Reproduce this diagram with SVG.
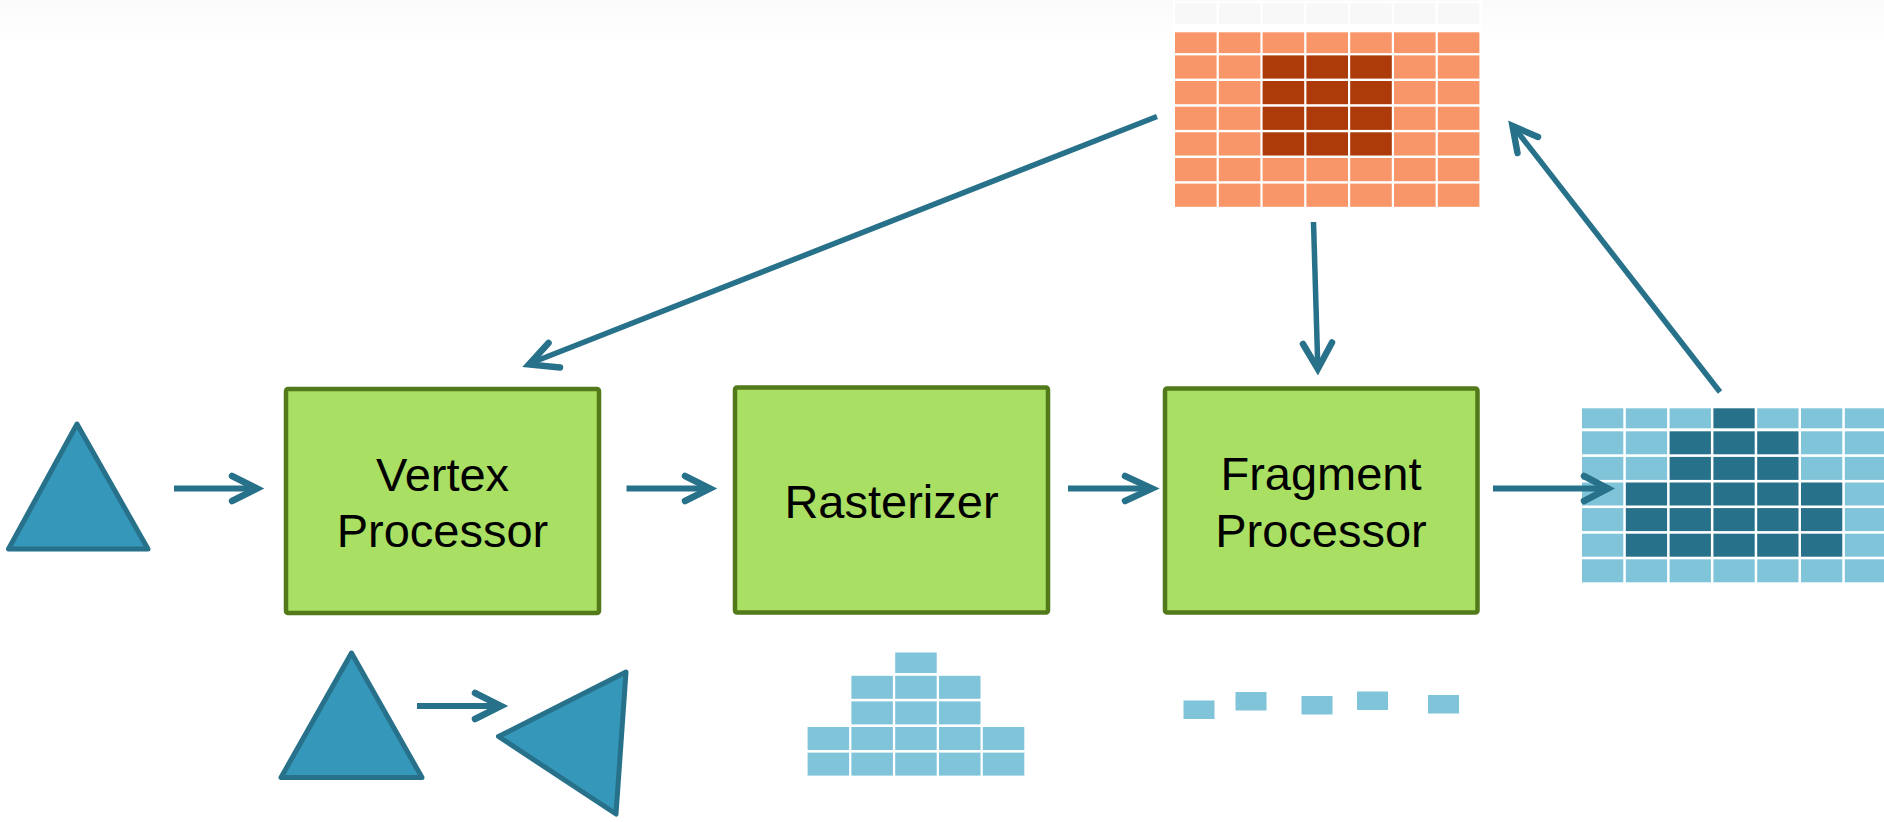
<svg xmlns="http://www.w3.org/2000/svg" width="1884" height="822" viewBox="0 0 1884 822">
  <defs>
    <linearGradient id="topFade" x1="0" y1="0" x2="0" y2="1">
      <stop offset="0" stop-color="#fafafa"/>
      <stop offset="1" stop-color="#ffffff"/>
    </linearGradient>
    <style>
      .box { fill: #a9df62; stroke: #527a1b; stroke-width: 4.5; }
      .label { font-family: "Liberation Sans", Arial, sans-serif; font-size: 47px; fill: #000; text-anchor: middle; }
      .tri { fill: #3597b9; stroke: #27718a; stroke-width: 5; stroke-linejoin: round; }
      .wire { fill: none; stroke: #27728a; stroke-width: 6; stroke-linecap: butt; }
      .head { fill: none; stroke: #27728a; stroke-width: 6.5; stroke-linecap: round; stroke-linejoin: miter; }
      .thin { stroke-width: 5.5; }
      .o1 { fill: #f89669; }
      .o2 { fill: #ad3a09; }
      .o0 { fill: #f8f8f8; }
      .b1 { fill: #80c4da; }
      .b2 { fill: #27728a; }
    </style>
  </defs>

  <rect width="1884" height="822" fill="#ffffff"/>
  <rect width="1884" height="42" fill="url(#topFade)"/>

  <!-- input triangle -->
  <g id="input-triangle">
    <polygon class="tri" points="77,424 8.5,549 148,549"/>
  </g>

  <!-- pipeline stages -->
  <g id="vertex-processor">
    <rect class="box" x="286" y="389" width="313" height="224" rx="2"/>
    <text class="label" x="442.5" y="491">Vertex</text>
    <text class="label" x="442.5" y="546.5">Processor</text>
  </g>

  <g id="rasterizer">
    <rect class="box" x="735" y="387.5" width="313" height="225" rx="2"/>
    <text class="label" x="891.5" y="518">Rasterizer</text>
  </g>

  <g id="fragment-processor">
    <rect class="box" x="1165" y="388.5" width="312.5" height="224" rx="2"/>
    <text class="label" x="1321" y="490">Fragment</text>
    <text class="label" x="1321" y="546.5">Processor</text>
  </g>

  <!-- frame buffer (top) -->
  <g id="frame-buffer">
    <rect x="1173" y="1" width="309" height="208" fill="#ffffff"/>
    <!-- row 0 -->
    <rect class="o0" x="1175" y="3" width="41.6" height="21"/>
    <rect class="o0" x="1218.8" y="3" width="41.6" height="21"/>
    <rect class="o0" x="1262.6" y="3" width="41.6" height="21"/>
    <rect class="o0" x="1306.4" y="3" width="41.6" height="21"/>
    <rect class="o0" x="1350.2" y="3" width="41.6" height="21"/>
    <rect class="o0" x="1394" y="3" width="41.6" height="21"/>
    <rect class="o0" x="1437.8" y="3" width="41.6" height="21"/>
    <!-- row 1 -->
    <rect class="o1" x="1175" y="32.3" width="41.6" height="20.8"/>
    <rect class="o1" x="1218.8" y="32.3" width="41.6" height="20.8"/>
    <rect class="o1" x="1262.6" y="32.3" width="41.6" height="20.8"/>
    <rect class="o1" x="1306.4" y="32.3" width="41.6" height="20.8"/>
    <rect class="o1" x="1350.2" y="32.3" width="41.6" height="20.8"/>
    <rect class="o1" x="1394" y="32.3" width="41.6" height="20.8"/>
    <rect class="o1" x="1437.8" y="32.3" width="41.6" height="20.8"/>
    <!-- row 2 -->
    <rect class="o1" x="1175" y="55.4" width="41.6" height="23.2"/>
    <rect class="o1" x="1218.8" y="55.4" width="41.6" height="23.2"/>
    <rect class="o2" x="1262.6" y="55.4" width="41.6" height="23.2"/>
    <rect class="o2" x="1306.4" y="55.4" width="41.6" height="23.2"/>
    <rect class="o2" x="1350.2" y="55.4" width="41.6" height="23.2"/>
    <rect class="o1" x="1394" y="55.4" width="41.6" height="23.2"/>
    <rect class="o1" x="1437.8" y="55.4" width="41.6" height="23.2"/>
    <!-- row 3 -->
    <rect class="o1" x="1175" y="81" width="41.6" height="23.2"/>
    <rect class="o1" x="1218.8" y="81" width="41.6" height="23.2"/>
    <rect class="o2" x="1262.6" y="81" width="41.6" height="23.2"/>
    <rect class="o2" x="1306.4" y="81" width="41.6" height="23.2"/>
    <rect class="o2" x="1350.2" y="81" width="41.6" height="23.2"/>
    <rect class="o1" x="1394" y="81" width="41.6" height="23.2"/>
    <rect class="o1" x="1437.8" y="81" width="41.6" height="23.2"/>
    <!-- row 4 -->
    <rect class="o1" x="1175" y="106.7" width="41.6" height="23.2"/>
    <rect class="o1" x="1218.8" y="106.7" width="41.6" height="23.2"/>
    <rect class="o2" x="1262.6" y="106.7" width="41.6" height="23.2"/>
    <rect class="o2" x="1306.4" y="106.7" width="41.6" height="23.2"/>
    <rect class="o2" x="1350.2" y="106.7" width="41.6" height="23.2"/>
    <rect class="o1" x="1394" y="106.7" width="41.6" height="23.2"/>
    <rect class="o1" x="1437.8" y="106.7" width="41.6" height="23.2"/>
    <!-- row 5 -->
    <rect class="o1" x="1175" y="132.3" width="41.6" height="23.2"/>
    <rect class="o1" x="1218.8" y="132.3" width="41.6" height="23.2"/>
    <rect class="o2" x="1262.6" y="132.3" width="41.6" height="23.2"/>
    <rect class="o2" x="1306.4" y="132.3" width="41.6" height="23.2"/>
    <rect class="o2" x="1350.2" y="132.3" width="41.6" height="23.2"/>
    <rect class="o1" x="1394" y="132.3" width="41.6" height="23.2"/>
    <rect class="o1" x="1437.8" y="132.3" width="41.6" height="23.2"/>
    <!-- row 6 -->
    <rect class="o1" x="1175" y="158" width="41.6" height="23.2"/>
    <rect class="o1" x="1218.8" y="158" width="41.6" height="23.2"/>
    <rect class="o1" x="1262.6" y="158" width="41.6" height="23.2"/>
    <rect class="o1" x="1306.4" y="158" width="41.6" height="23.2"/>
    <rect class="o1" x="1350.2" y="158" width="41.6" height="23.2"/>
    <rect class="o1" x="1394" y="158" width="41.6" height="23.2"/>
    <rect class="o1" x="1437.8" y="158" width="41.6" height="23.2"/>
    <!-- row 7 -->
    <rect class="o1" x="1175" y="183.6" width="41.6" height="23.2"/>
    <rect class="o1" x="1218.8" y="183.6" width="41.6" height="23.2"/>
    <rect class="o1" x="1262.6" y="183.6" width="41.6" height="23.2"/>
    <rect class="o1" x="1306.4" y="183.6" width="41.6" height="23.2"/>
    <rect class="o1" x="1350.2" y="183.6" width="41.6" height="23.2"/>
    <rect class="o1" x="1394" y="183.6" width="41.6" height="23.2"/>
    <rect class="o1" x="1437.8" y="183.6" width="41.6" height="23.2"/>
  </g>

  <!-- output pixel grid (right) -->
  <g id="output-pixels">
    <!-- row 0 -->
    <rect class="b1" x="1582" y="408.3" width="41.3" height="20"/>
    <rect class="b1" x="1625.8" y="408.3" width="41.3" height="20"/>
    <rect class="b1" x="1669.6" y="408.3" width="41.3" height="20"/>
    <rect class="b2" x="1713.4" y="408.3" width="41.3" height="20"/>
    <rect class="b1" x="1757.2" y="408.3" width="41.3" height="20"/>
    <rect class="b1" x="1801" y="408.3" width="41.3" height="20"/>
    <rect class="b1" x="1844.8" y="408.3" width="41.3" height="20"/>
    <!-- row 1 -->
    <rect class="b1" x="1582" y="431.3" width="41.3" height="23"/>
    <rect class="b1" x="1625.8" y="431.3" width="41.3" height="23"/>
    <rect class="b2" x="1669.6" y="431.3" width="41.3" height="23"/>
    <rect class="b2" x="1713.4" y="431.3" width="41.3" height="23"/>
    <rect class="b2" x="1757.2" y="431.3" width="41.3" height="23"/>
    <rect class="b1" x="1801" y="431.3" width="41.3" height="23"/>
    <rect class="b1" x="1844.8" y="431.3" width="41.3" height="23"/>
    <!-- row 2 -->
    <rect class="b1" x="1582" y="456.9" width="41.3" height="23"/>
    <rect class="b1" x="1625.8" y="456.9" width="41.3" height="23"/>
    <rect class="b2" x="1669.6" y="456.9" width="41.3" height="23"/>
    <rect class="b2" x="1713.4" y="456.9" width="41.3" height="23"/>
    <rect class="b2" x="1757.2" y="456.9" width="41.3" height="23"/>
    <rect class="b1" x="1801" y="456.9" width="41.3" height="23"/>
    <rect class="b1" x="1844.8" y="456.9" width="41.3" height="23"/>
    <!-- row 3 -->
    <rect class="b1" x="1582" y="482.5" width="41.3" height="23"/>
    <rect class="b2" x="1625.8" y="482.5" width="41.3" height="23"/>
    <rect class="b2" x="1669.6" y="482.5" width="41.3" height="23"/>
    <rect class="b2" x="1713.4" y="482.5" width="41.3" height="23"/>
    <rect class="b2" x="1757.2" y="482.5" width="41.3" height="23"/>
    <rect class="b2" x="1801" y="482.5" width="41.3" height="23"/>
    <rect class="b1" x="1844.8" y="482.5" width="41.3" height="23"/>
    <!-- row 4 -->
    <rect class="b1" x="1582" y="508.1" width="41.3" height="23"/>
    <rect class="b2" x="1625.8" y="508.1" width="41.3" height="23"/>
    <rect class="b2" x="1669.6" y="508.1" width="41.3" height="23"/>
    <rect class="b2" x="1713.4" y="508.1" width="41.3" height="23"/>
    <rect class="b2" x="1757.2" y="508.1" width="41.3" height="23"/>
    <rect class="b2" x="1801" y="508.1" width="41.3" height="23"/>
    <rect class="b1" x="1844.8" y="508.1" width="41.3" height="23"/>
    <!-- row 5 -->
    <rect class="b1" x="1582" y="533.7" width="41.3" height="23"/>
    <rect class="b2" x="1625.8" y="533.7" width="41.3" height="23"/>
    <rect class="b2" x="1669.6" y="533.7" width="41.3" height="23"/>
    <rect class="b2" x="1713.4" y="533.7" width="41.3" height="23"/>
    <rect class="b2" x="1757.2" y="533.7" width="41.3" height="23"/>
    <rect class="b2" x="1801" y="533.7" width="41.3" height="23"/>
    <rect class="b1" x="1844.8" y="533.7" width="41.3" height="23"/>
    <!-- row 6 -->
    <rect class="b1" x="1582" y="559.3" width="41.3" height="23"/>
    <rect class="b1" x="1625.8" y="559.3" width="41.3" height="23"/>
    <rect class="b1" x="1669.6" y="559.3" width="41.3" height="23"/>
    <rect class="b1" x="1713.4" y="559.3" width="41.3" height="23"/>
    <rect class="b1" x="1757.2" y="559.3" width="41.3" height="23"/>
    <rect class="b1" x="1801" y="559.3" width="41.3" height="23"/>
    <rect class="b1" x="1844.8" y="559.3" width="41.3" height="23"/>
  </g>

  <!-- vertex transform illustration -->
  <g id="vertex-example">
    <polygon class="tri" points="351.5,653 281,777.5 422,777.5"/>
    <path class="wire" d="M417,706 H499"/>
    <path class="head" d="M475,693 L501,706 L475,719"/>
    <polygon class="tri" points="626,672 498.5,736.5 616,814"/>
  </g>

  <!-- rasterized fragments illustration -->
  <g id="raster-example" class="b1">
    <rect x="895.2" y="652.5" width="41.5" height="20.5"/>
    <rect x="851.4" y="675.8" width="41.5" height="23"/>
    <rect x="895.2" y="675.8" width="41.5" height="23"/>
    <rect x="939" y="675.8" width="41.5" height="23"/>
    <rect x="851.4" y="701.4" width="41.5" height="23"/>
    <rect x="895.2" y="701.4" width="41.5" height="23"/>
    <rect x="939" y="701.4" width="41.5" height="23"/>
    <rect x="807.6" y="727" width="41.5" height="23"/>
    <rect x="851.4" y="727" width="41.5" height="23"/>
    <rect x="895.2" y="727" width="41.5" height="23"/>
    <rect x="939" y="727" width="41.5" height="23"/>
    <rect x="982.8" y="727" width="41.5" height="23"/>
    <rect x="807.6" y="752.6" width="41.5" height="23"/>
    <rect x="851.4" y="752.6" width="41.5" height="23"/>
    <rect x="895.2" y="752.6" width="41.5" height="23"/>
    <rect x="939" y="752.6" width="41.5" height="23"/>
    <rect x="982.8" y="752.6" width="41.5" height="23"/>
  </g>

  <!-- shaded fragments illustration -->
  <g id="fragment-example" class="b1">
    <rect x="1183.5" y="700.5" width="31" height="18.5"/>
    <rect x="1235.5" y="692" width="31" height="18.5"/>
    <rect x="1301.5" y="696" width="31" height="18.5"/>
    <rect x="1357" y="691.5" width="31" height="18.5"/>
    <rect x="1428" y="695" width="31" height="18.5"/>
  </g>

  <!-- connectors -->
  <g id="connectors">
    <!-- input -> vertex processor -->
    <path class="wire" d="M174,488.5 H254"/>
    <path class="head" d="M232,476 L257,488.5 L232,501"/>
    <!-- vertex processor -> rasterizer -->
    <path class="wire" d="M626.5,488.5 H707"/>
    <path class="head" d="M685,476 L710,488.5 L685,501"/>
    <!-- rasterizer -> fragment processor -->
    <path class="wire" d="M1068,488.5 H1150"/>
    <path class="head" d="M1125,476 L1152,488.5 L1125,501"/>
    <!-- fragment processor -> output -->
    <path class="wire" d="M1493,488.5 H1605"/>
    <path class="head" d="M1584,476 L1608,488.5 L1584,501"/>
    <!-- frame buffer -> vertex processor -->
    <path class="wire thin" d="M1157,116.5 L531,363"/>
    <path class="head" d="M548.5,343 L529,364.5 L560,367.5"/>
    <!-- frame buffer -> fragment processor -->
    <path class="wire thin" d="M1313.5,222 L1317.8,367"/>
    <path class="head" d="M1303,344 L1317.8,369 L1332,342.5"/>
    <!-- output -> frame buffer -->
    <path class="wire thin" d="M1720,392 L1513,126"/>
    <path class="head" d="M1517.5,153 L1512.5,126 L1538,137"/>
  </g>
</svg>
